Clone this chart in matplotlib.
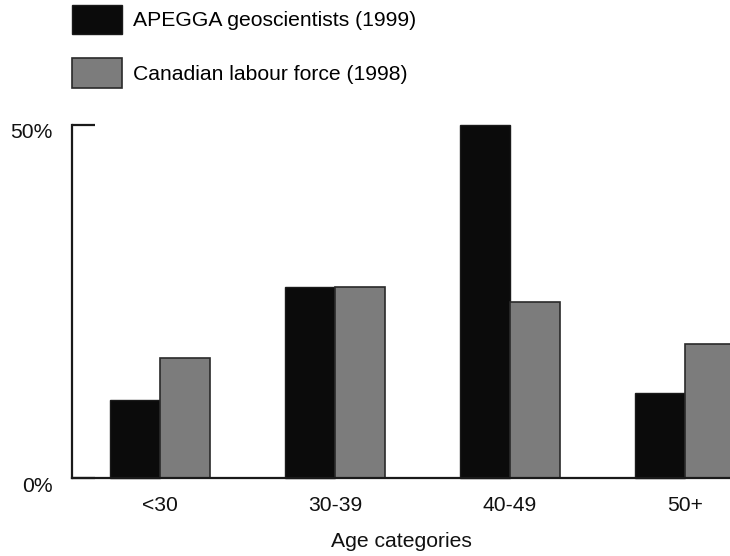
import matplotlib
matplotlib.use("Agg")
import matplotlib.pyplot as plt
import matplotlib.transforms as mtransforms
import numpy as np

categories = ["<30", "30-39", "40-49", "50+"]
apegga = [11, 27, 50, 12]
labour = [17, 27, 25, 19]
series_names = ["APEGGA geoscientists (1999)", "Canadian labour force (1998)"]
y_ticks = [0, 50]
y_ticklabels = ["0%", "50%"]
x_title = "Age categories"

plt.rcParams["font.family"] = ["Liberation Sans", "DejaVu Sans"]
FS = 15.2
dark = "#1a1a1a"
grey = "#7c7c7c"

fig = plt.figure(figsize=(7.30, 5.56), dpi=100)
ax = fig.add_axes([72/730, 78/556, 1 - 72/730, 353/556])

x = np.arange(len(categories))
w = 0.2857
b1 = ax.bar(x - w/2, apegga, w, color="#0b0b0b", edgecolor=dark, linewidth=1.0,
            label=series_names[0])
b2 = ax.bar(x + w/2, labour, w, color=grey, edgecolor="#2a2a2a", linewidth=1.2,
            label=series_names[1])
for r in b1:
    r.set_clip_on(False)

ax.set_xlim(-0.503, 3.257)
ax.set_ylim(0, 50)

for s in ["top", "right"]:
    ax.spines[s].set_visible(False)
for s in ["left", "bottom"]:
    ax.spines[s].set_linewidth(1.6)
    ax.spines[s].set_color(dark)

ax.set_xticks(x)
ax.set_xticklabels(categories, fontsize=FS, color="#111111")
ax.tick_params(axis="x", length=0, pad=13)
ax.set_yticks(y_ticks)
ax.set_yticklabels(y_ticklabels, fontsize=FS, color="#111111")
ax.tick_params(axis="y", direction="in", length=16.5, width=1.6, color=dark, pad=14)

off = mtransforms.ScaledTranslation(0, -6/100, fig.dpi_scale_trans)
for lab in ax.get_yticklabels():
    lab.set_transform(lab.get_transform() + off)

ax.set_xlabel(x_title, fontsize=FS, color="#111111", labelpad=12)

fig.legend(handles=[b1, b2], labels=series_names, loc="upper left",
           bbox_to_anchor=(72/730, 551/556), frameon=False, fontsize=FS,
           borderpad=0, borderaxespad=0, handlelength=2.35, handleheight=1.75,
           handletextpad=0.53, labelspacing=1.15)

fig.savefig("out.png", dpi=100)
